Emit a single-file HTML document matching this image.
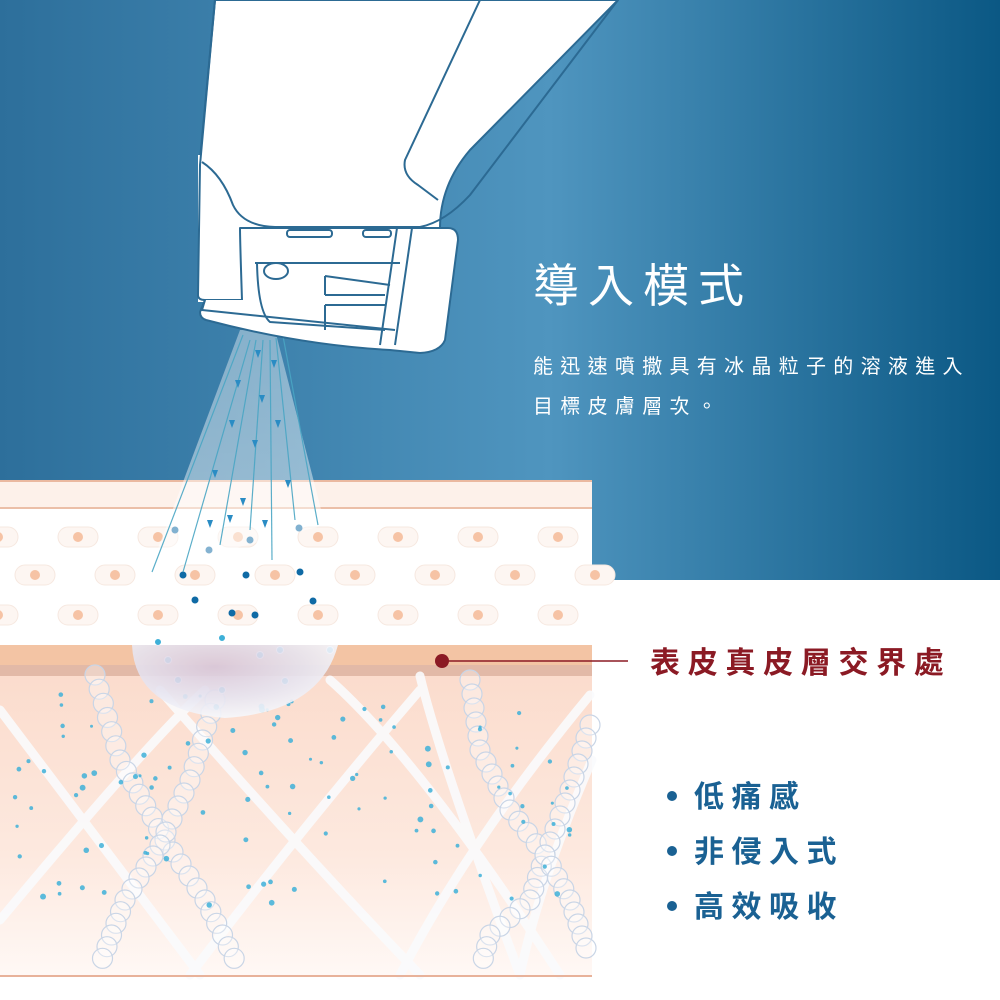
<!DOCTYPE html>
<html><head><meta charset="utf-8"><style>
html,body{margin:0;padding:0;width:1000px;height:1000px;overflow:hidden;background:#fff}
svg{display:block}
.t{font-family:"Liberation Sans","Noto Sans CJK TC",sans-serif}
</style></head><body>
<svg id="s" width="1000" height="1000" viewBox="0 0 1000 1000" xmlns="http://www.w3.org/2000/svg">
<defs>
<linearGradient id="bg" x1="0" x2="1" y1="0" y2="0">
<stop offset="0" stop-color="#2d6f9b"/><stop offset="0.55" stop-color="#4f95bf"/><stop offset="1" stop-color="#0b5884"/>
</linearGradient>
<linearGradient id="derm" x1="0" x2="0" y1="0" y2="1">
<stop offset="0" stop-color="#fbdccd"/><stop offset="0.6" stop-color="#fde9df"/><stop offset="1" stop-color="#fff8f5"/>
</linearGradient>
<radialGradient id="drop" cx="0.4" cy="0.3" r="0.7">
<stop offset="0" stop-color="#d9c9dc"/><stop offset="0.6" stop-color="#e6e4f0"/><stop offset="1" stop-color="#f6f8fc"/>
</radialGradient>
<linearGradient id="cone" x1="0" x2="0" y1="0" y2="1">
<stop offset="0" stop-color="#fff" stop-opacity="0.7"/><stop offset="1" stop-color="#fff" stop-opacity="0.9"/>
</linearGradient>
</defs>
<rect width="1000" height="580" fill="url(#bg)"/>
<rect x="0" y="480" width="592" height="500" fill="#fff"/>
<rect x="0" y="481" width="592" height="27" fill="#fdf1ea"/>
<line x1="0" y1="481" x2="592" y2="481" stroke="#eab9a0" stroke-width="2"/>
<line x1="0" y1="508" x2="592" y2="508" stroke="#ebbfa8" stroke-width="2"/>
<g id="cells"></g>
<rect x="0" y="645" width="592" height="20" fill="#f3c4a4"/>
<rect x="0" y="665" width="592" height="11" fill="#e2b9a7"/>
<rect x="0" y="676" width="592" height="299" fill="url(#derm)"/>
<g stroke="#fafbfd" stroke-width="9" opacity="0.9" fill="none" stroke-linecap="round">
<path d="M0 710 L200 975"/>
<path d="M0 920 Q150 740 205 690"/>
<path d="M160 690 Q300 850 420 975"/>
<path d="M420 690 Q300 830 190 975"/>
<path d="M330 680 Q420 760 560 975"/>
<path d="M590 695 Q470 840 400 975"/>
<path d="M420 676 Q440 760 520 975"/>
<path d="M592 760 Q540 880 520 975"/>
</g>
<g id="beads" fill="#fff" fill-opacity="0.35" stroke="#c9d5e6" stroke-width="1.2"></g>
<g id="dots" fill="#3eb0d8"></g>
<line x1="0" y1="976" x2="592" y2="976" stroke="#e8b29a" stroke-width="2"/>
<path d="M132 645 Q135 710 225 718 Q320 712 338 645 Z" fill="url(#drop)" opacity="0.9"/>
<path d="M240 330 L150 570 L325 525 L275 330 Z" fill="url(#cone)" opacity="0.55"/>
<g stroke="#4aa6c4" stroke-width="1.2" fill="none" opacity="0.9">
<path d="M243 335 L152 572"/><path d="M250 340 L183 572"/><path d="M256 340 L220 545"/>
<path d="M263 340 L250 530"/><path d="M270 340 L272 560"/><path d="M276 338 L295 520"/><path d="M283 336 L318 525"/>
</g>
<g fill="#2a8cc4" id="tri"></g>
<g stroke="#2c6a93" stroke-width="2" fill="#fff" stroke-linejoin="round">
<path d="M215 0 L618 0 L470 150 Q440 185 440 228 L245 228 L210 225 Q200 180 200 160 Z"/>
<path d="M198 155 L245 155 L245 302 L198 302 Z" stroke="none"/>
<path d="M202 162 Q222 175 233 205 Q243 226 275 227 L420 227 Q445 222 470 195 L618 0" fill="none"/>
<path d="M480 0 L405 160 Q402 175 418 185 L438 200" fill="none"/>
<path d="M215 0 L200 165 L198 295 Q198 300 205 300 L250 300" fill="none"/>
<path d="M205 300 L200 312 Q200 318 206 320 Q300 345 390 350 L420 353 Q440 352 445 340 L458 240 Q458 228 448 228 L240 228 Q240 240 242 300" />
<path d="M205 300 L202 310 L395 330" fill="none"/>
<path d="M255 263 L400 263 M257 263 Q258 312 270 322 L385 330 M325 276 L390 285 M325 295 L385 295 M325 305 L385 305 M325 305 L325 330 M325 276 L325 295" fill="none"/>
<path d="M397 228 L380 345 M412 228 L395 345" fill="none"/>
<rect x="287" y="230" width="45" height="7" rx="3"/>
<rect x="363" y="230" width="28" height="7" rx="3"/>
<ellipse cx="276" cy="271" rx="12" ry="8"/>
</g>
<line x1="442" y1="661" x2="628" y2="661" stroke="#8b1a24" stroke-width="1.5"/>
<circle cx="442" cy="661" r="7" fill="#8b1a24"/>
<text class="t" x="533" y="302" font-size="46" fill="#fff" letter-spacing="9">導入模式</text>
<text class="t" x="533" y="373" font-size="20" fill="#fff" letter-spacing="7.3">能迅速噴撒具有冰晶粒子的溶液進入</text>
<text class="t" x="533" y="413" font-size="20" fill="#fff" letter-spacing="7.3">目標皮膚層次。</text>
<text class="t" x="650" y="673" font-size="30" fill="#8b1a24" font-weight="bold" letter-spacing="7.7">表皮真皮層交界處</text>
<g fill="#1a6193">
<circle cx="672" cy="796" r="5"/><circle cx="672" cy="851" r="5"/><circle cx="672" cy="906" r="5"/>
<text class="t" x="694" y="807" font-size="30" font-weight="bold" letter-spacing="7.5">低痛感</text>
<text class="t" x="694" y="862" font-size="30" font-weight="bold" letter-spacing="7.5">非侵入式</text>
<text class="t" x="694" y="917" font-size="30" font-weight="bold" letter-spacing="7.5">高效吸收</text>
</g>
</svg>
<script>
var NS="http://www.w3.org/2000/svg";
function el(p,t,a){var e=document.createElementNS(NS,t);for(var k in a)e.setAttribute(k,a[k]);p.appendChild(e);return e;}
var cells=document.getElementById('cells');
[[537,0],[575,37],[615,0]].forEach(function(r){
 for(var x=-2+r[1];x<620;x+=80){
  el(cells,'rect',{x:x-20,y:r[0]-10,width:40,height:20,rx:10,fill:'#fdf6f2',stroke:'#f6e8e0'});
  el(cells,'circle',{cx:x+0,cy:r[0],r:5,fill:'#f6c3a5'});
 }});
var beads=document.getElementById('beads');
function chain(pts){for(var i=0;i<pts.length-1;i++){var a=pts[i],b=pts[i+1];var d=Math.hypot(b[0]-a[0],b[1]-a[1]);var n=Math.ceil(d/15);for(var j=0;j<n;j++){var t=j/n;el(beads,'circle',{cx:a[0]+(b[0]-a[0])*t,cy:a[1]+(b[1]-a[1])*t,r:10});}}}
chain([[95,675],[120,760],[165,840],[205,900],[240,970]]);
chain([[215,700],[190,780],[160,845],[125,900],[98,970]]);
chain([[470,680],[480,750],[510,810],[545,855],[530,900],[490,935],[480,970]]);
chain([[590,725],[570,790],[545,855],[570,900],[590,960]]);
var dots=document.getElementById('dots');
var s=7;function rnd(){s=(s*9301+49297)%233280;return s/233280;}
for(var i=0;i<110;i++){var x=rnd()*560+15,y=690+rnd()*220;el(dots,'circle',{cx:x,cy:y,r:1.5+rnd()*1.5,opacity:0.85});}
[[175,530],[209,550],[183,575],[250,540],[299,528],[246,575],[300,572],[195,600],[232,613],[255,615],[313,601],[158,642],[222,638],[260,655],[330,650],[168,660],[222,690],[285,681],[178,680],[280,650]].forEach(function(p){el(dots,'circle',{cx:p[0],cy:p[1],r:3.5,fill:p[1]<620?'#0f6aa5':'#3eb0d8',stroke:p[1]>630?'#fff':'none'});});
var tri=document.getElementById('tri');
[[258,350],[274,360],[238,380],[262,395],[278,420],[232,420],[255,440],[215,470],[288,480],[243,498],[265,520],[210,520],[230,515]].forEach(function(p){el(tri,'path',{d:'M'+(p[0]-3)+' '+p[1]+' l6 0 l-3 8z'});});
</script>
</body></html>
